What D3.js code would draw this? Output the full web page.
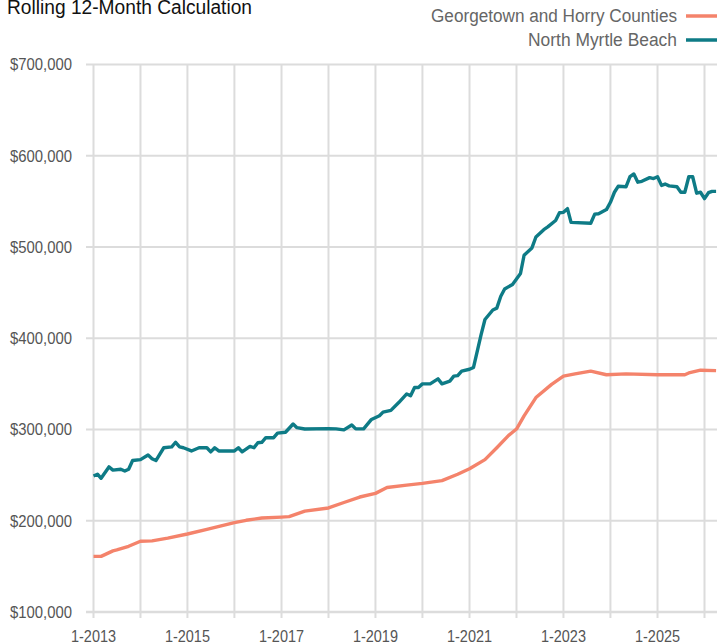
<!DOCTYPE html>
<html>
<head>
<meta charset="utf-8">
<script src="https://cdn.jsdelivr.net/npm/d3@7"></script>
<style>
  body { margin: 0; background: #fff; }
  svg { display: block; font-family: "Liberation Sans", Arial, sans-serif; }
</style>
</head>
<body>
<div id="chart"><svg></svg></div>
<script>
var width = 717,
    height = 644;

var title = "Rolling 12-Month Calculation";
var seriesNames = ["Georgetown and Horry Counties", "North Myrtle Beach"];
var seriesColors = ["#f4836b", "#0e7b86"];

// Georgetown and Horry Counties
var gahDates = ["2013-01", "2013-03", "2013-06", "2013-07", "2013-10", "2014-01", "2014-04", "2014-08",
  "2015-01", "2015-06", "2016-01", "2016-04", "2016-08", "2017-01", "2017-03", "2017-07",
  "2018-01", "2018-05", "2018-09", "2019-01", "2019-04", "2019-09", "2020-01", "2020-06",
  "2020-10", "2021-01", "2021-05", "2021-08", "2021-11", "2022-01", "2022-03", "2022-06",
  "2022-10", "2023-01", "2023-04", "2023-08", "2023-12", "2024-05", "2025-01", "2025-08",
  "2025-09", "2025-12", "2026-04"];
var gahValues = [161000, 161000, 167000, 168000, 172000, 177500, 178000, 181000,
  185500, 190500, 198000, 200500, 203000, 204000, 204500, 210500,
  214000, 220000, 226000, 230000, 236500, 239000, 241000, 244000,
  251000, 257000, 267000, 280000, 293500, 300500, 315000, 335000,
  349500, 358500, 361000, 364000, 360000, 361000, 360000, 360000,
  362000, 365000, 364500];

// North Myrtle Beach
var nmbDates = ["2013-01", "2013-02", "2013-03", "2013-05", "2013-06", "2013-08", "2013-09", "2013-10",
  "2013-11", "2014-01", "2014-03", "2014-04", "2014-05", "2014-07", "2014-09", "2014-10",
  "2014-11", "2014-12", "2015-02", "2015-04", "2015-06", "2015-07", "2015-08", "2015-09",
  "2016-01", "2016-02", "2016-03", "2016-05", "2016-06", "2016-07", "2016-08", "2016-09",
  "2016-11", "2016-12", "2017-02", "2017-04", "2017-05", "2017-07", "2018-01", "2018-03",
  "2018-05", "2018-07", "2018-08", "2018-10", "2018-12", "2019-02", "2019-03", "2019-05",
  "2019-07", "2019-09", "2019-10", "2019-11", "2019-12", "2020-01", "2020-03", "2020-05",
  "2020-06", "2020-08", "2020-09", "2020-10", "2020-11", "2021-01", "2021-02", "2021-04",
  "2021-05", "2021-07", "2021-08", "2021-09", "2021-10", "2021-12", "2022-01", "2022-02",
  "2022-03", "2022-05", "2022-06", "2022-08", "2022-09", "2022-11", "2022-12", "2023-01",
  "2023-02", "2023-03", "2023-08", "2023-09", "2023-10", "2023-12", "2024-01", "2024-02",
  "2024-03", "2024-05", "2024-06", "2024-07", "2024-08", "2024-09", "2024-11", "2024-12",
  "2025-01", "2025-02", "2025-03", "2025-04", "2025-06", "2025-07", "2025-08", "2025-09",
  "2025-10", "2025-11", "2025-12", "2026-01", "2026-02", "2026-03", "2026-04"];
var nmbValues = [249000, 251000, 246500, 259000, 255500, 256500, 254500, 256500,
  266000, 267000, 272000, 268000, 266000, 280000, 281000, 286000,
  281000, 280000, 276500, 280000, 280000, 275500, 280000, 276500,
  276500, 280000, 275500, 281500, 280000, 285500, 286000, 291000,
  291000, 296000, 297000, 306000, 302000, 300500, 301000, 300700,
  299600, 305000, 300700, 300700, 311000, 315000, 319000, 321000,
  329500, 339000, 337000, 346000, 346000, 350000, 350000, 355500,
  350000, 353000, 358500, 359000, 364000, 366000, 368000, 404000,
  420500, 431000, 433000, 446000, 454000, 459000, 465000, 471000,
  491000, 499000, 511000, 519000, 522000, 529000, 537500, 538000,
  542000, 527000, 526000, 536000, 536500, 541000, 549000, 560000,
  566500, 566000, 577000, 580000, 571000, 572000, 576000, 575000,
  577000, 567500, 569000, 567000, 566000, 560000, 560000, 577000,
  577000, 559000, 560000, 553000, 559500, 561000, 561000];

var yTicks = [100000, 200000, 300000, 400000, 500000, 600000, 700000];
var xLabelYears = [2013, 2015, 2017, 2019, 2021, 2023, 2025];

var parseMonth = d3.timeParse("%Y-%m");

var x = d3.scaleTime()
  .domain([new Date(2013, 0, 1), new Date(2026, 0, 1)])
  .range([93.5, 704.5]);

var y = d3.scaleLinear()
  .domain([100000, 700000])
  .range([612, 64.5]);

var svg = d3.select("#chart svg")
  .attr("width", width)
  .attr("height", height);

// vertical grid, one per year
var years = d3.timeYear.range(new Date(2013, 0, 1), new Date(2027, 0, 2));
svg.append("g")
    .attr("class", "xgrid")
  .selectAll("line")
    .data(years)
  .enter().append("line")
    .attr("x1", function (d) { return x(d); })
    .attr("x2", function (d) { return x(d); })
    .attr("y1", y(700000))
    .attr("y2", y(100000) + 6)
    .attr("stroke", "#dcdcdc")
    .attr("stroke-width", 2);

// horizontal grid
svg.append("g")
    .attr("class", "ygrid")
  .selectAll("line")
    .data(yTicks)
  .enter().append("line")
    .attr("x1", 86)
    .attr("x2", width)
    .attr("y1", function (d) { return y(d); })
    .attr("y2", function (d) { return y(d); })
    .attr("stroke", "#dcdcdc")
    .attr("stroke-width", function (d) { return d === 100000 ? 2.5 : 2; });

// y labels
var fmt = d3.format("$,");
svg.append("g")
    .attr("class", "ylabels")
  .selectAll("text")
    .data(yTicks)
  .enter().append("text")
    .attr("x", 72)
    .attr("y", function (d) { return y(d); })
    .attr("dy", "0.36em")
    .attr("text-anchor", "end")
    .attr("fill", "#555")
    .attr("textLength", 62)
    .attr("lengthAdjust", "spacingAndGlyphs")
    .style("font-size", "16px")
    .text(function (d) { return fmt(d); });

// x labels every two years
svg.append("g")
    .attr("class", "xlabels")
  .selectAll("text")
    .data(xLabelYears)
  .enter().append("text")
    .attr("x", function (d) { return x(new Date(d, 0, 1)); })
    .attr("y", 642)
    .attr("text-anchor", "middle")
    .attr("fill", "#555")
    .attr("textLength", 45)
    .attr("lengthAdjust", "spacingAndGlyphs")
    .style("font-size", "16px")
    .text(function (d) { return "1-" + d; });

// series lines
var line = d3.line()
  .x(function (d) { return x(d.date); })
  .y(function (d) { return y(d.value); });

var series = [
  gahDates.map(function (d, i) { return { date: parseMonth(d), value: gahValues[i] }; }),
  nmbDates.map(function (d, i) { return { date: parseMonth(d), value: nmbValues[i] }; })
];

svg.append("g")
    .attr("class", "lines")
  .selectAll("path")
    .data(series)
  .enter().append("path")
    .attr("d", line)
    .attr("fill", "none")
    .attr("stroke", function (d, i) { return seriesColors[i]; })
    .attr("stroke-width", 3.4)
    .attr("stroke-linejoin", "round");

// title
svg.append("text")
  .attr("x", 7)
  .attr("y", 14)
  .attr("fill", "#111")
  .attr("textLength", 245)
  .attr("lengthAdjust", "spacingAndGlyphs")
  .style("font-size", "20px")
  .text(title);

// legend
var legendWidths = [246, 149];
var legend = svg.append("g")
    .attr("class", "legend")
  .selectAll("g")
    .data(seriesNames)
  .enter().append("g")
    .attr("transform", function (d, i) { return "translate(0," + (16 + i * 24) + ")"; });

legend.append("text")
  .attr("x", 677)
  .attr("dy", "0.36em")
  .attr("text-anchor", "end")
  .attr("fill", "#666")
  .attr("textLength", function (d, i) { return legendWidths[i]; })
  .attr("lengthAdjust", "spacingAndGlyphs")
  .style("font-size", "18px")
  .text(function (d) { return d; });

legend.append("line")
  .attr("x1", 686)
  .attr("x2", 720)
  .attr("stroke", function (d, i) { return seriesColors[i]; })
  .attr("stroke-width", 3.5);
</script>
</body>
</html>
